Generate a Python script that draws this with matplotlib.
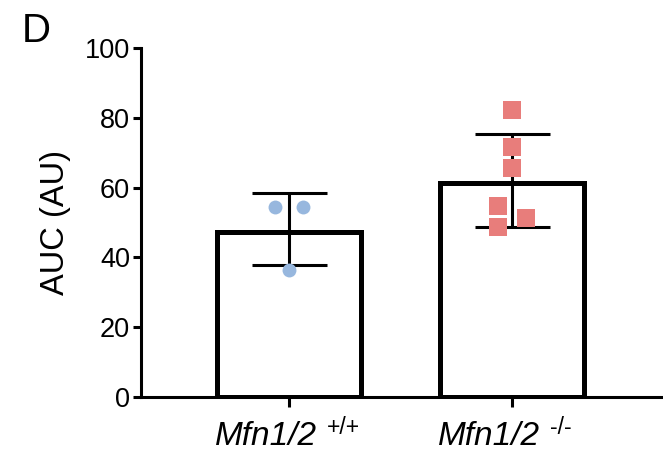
import matplotlib
matplotlib.use("Agg")
import matplotlib.pyplot as plt
import matplotlib.transforms as mtransforms
import numpy as np

plt.rcParams['font.family'] = ['Liberation Sans', 'DejaVu Sans']

# data
categories = ['Mfn1/2', 'Mfn1/2']
genotypes = ['+/+', '-/-']
bar_means = [47.3, 61.3]
err_low = [9.6, 12.5]
err_high = [11.2, 14.1]
wt_points = [54.3, 54.3, 36.3]
ko_points = [82.3, 71.5, 65.5, 54.6, 48.6, 51.2]
wt_jitter = [-0.063, 0.063, 0.0]
ko_jitter = [0.0, 0.0, 0.0, -0.063, -0.063, 0.063]
yticks = [0, 20, 40, 60, 80, 100]

W, H = 663, 469
fig = plt.figure(figsize=(W / 100, H / 100), dpi=100)
ax = fig.add_axes([141 / W, (H - 397) / H, 1 - 141 / W, (397 - 48) / H])

x = np.arange(len(categories))
ax.bar(x, bar_means, width=0.645, color='white', edgecolor='black', linewidth=3.6, zorder=1)
ax.errorbar(x, bar_means, yerr=[err_low, err_high], fmt='none', ecolor='black',
            elinewidth=2.2, capsize=27, capthick=2.2, zorder=2)

ax.plot(x[0] + np.array(wt_jitter), wt_points, 'o', color='#97b7de', markersize=10,
        markeredgewidth=0, zorder=3, clip_on=False)
ax.plot(x[1] + np.array(ko_jitter), ko_points, 's', color='#e87d7b', markersize=12.5,
        markeredgewidth=0, zorder=3, clip_on=False)

ax.set_xlim(-0.664, 1.677)
ax.set_ylim(0, 100)
ax.set_yticks(yticks)
ax.set_xticks(x)
ax.set_xticklabels([])
ax.tick_params(axis='y', labelsize=19.5, width=2.2, length=6, pad=2)
ax.tick_params(axis='x', width=2.2, length=7)
ax.set_ylabel('AUC (AU)', fontsize=23.5, labelpad=10)

# x tick labels: italic gene name + superscript genotype
blend = mtransforms.blended_transform_factory(ax.transData, fig.transFigure)
base_y = 1 - 445 / H
for xi, name, gt in zip(x, categories, genotypes):
    t_main = blend + mtransforms.ScaledTranslation(28 / 100, 0, fig.dpi_scale_trans)
    ax.text(xi, base_y, name, transform=t_main, ha='right', va='baseline',
            fontsize=24, fontstyle='italic')
    t_sup = blend + mtransforms.ScaledTranslation(38 / 100, 11 / 100, fig.dpi_scale_trans)
    ax.text(xi, base_y, gt, transform=t_sup, ha='left', va='baseline', fontsize=16.5)

for s in ['top', 'right']:
    ax.spines[s].set_visible(False)
for s in ['left', 'bottom']:
    ax.spines[s].set_linewidth(2.2)

fig.text(22 / W, 1 - 42 / H, 'D', fontsize=29, ha='left', va='baseline')

fig.savefig('out.png', dpi=100)
